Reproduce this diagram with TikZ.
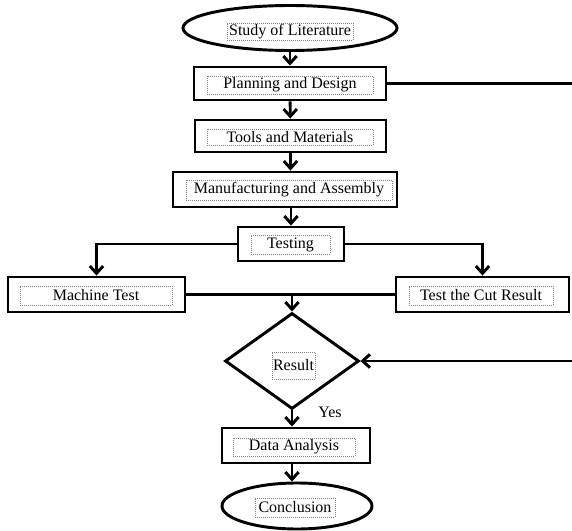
\documentclass[tikz,border=0pt]{standalone}
\usepackage{fontspec}
\setmainfont{Liberation Serif}
\usetikzlibrary{shapes.geometric,arrows.meta}

\tikzset{
  boxshape/.style={draw, line width=2.2pt, rectangle, inner sep=0pt},
  ovalshape/.style={draw, line width=2.2pt, ellipse, inner sep=0pt},
  diamshape/.style={draw, line width=2.2pt, diamond, inner sep=0pt},
  txtframe/.style={draw=gray, densely dotted, line width=0.5pt, inner sep=0pt, font=\fontsize{12}{14}\selectfont},
  link/.style={line width=2.2pt},
  flow/.style={link, -{Straight Barb[length=5.5pt,width=10pt,line width=2.2pt]}}
}

\begin{document}
\begin{tikzpicture}[x=0.75pt,y=0.75pt,yscale=-1,xscale=1]
\useasboundingbox (0,0) rectangle (572,531);

%Shape: Ellipse [id:study]
\node [ovalshape, minimum width=160.5pt, minimum height=33.75pt] (study) at (290,28) {};
% Text Node
\node [txtframe, minimum width=94.5pt, minimum height=12.75pt] (studyt) at (290,31.5) {Study of Literature};

%Shape: Rectangle [id:plan]
\node [boxshape, minimum width=144pt, minimum height=24.75pt] (plan) at (290,83.5) {};
% Text Node
\node [txtframe, minimum width=124.5pt, minimum height=13.5pt] (plant) at (290,85) {Planning and Design};

%Shape: Rectangle [id:tools]
\node [boxshape, minimum width=143.25pt, minimum height=24pt] (tools) at (290.5,136) {};
% Text Node
\node [txtframe, minimum width=124.5pt, minimum height=12pt] (toolst) at (290,137) {Tools and Materials};

%Shape: Rectangle [id:manu]
\node [boxshape, minimum width=168pt, minimum height=26.25pt] (manu) at (285,189.5) {};
% Text Node
\node [txtframe, minimum width=154.5pt, minimum height=15pt] (manut) at (289,190) {Manufacturing and Assembly};

%Shape: Rectangle [id:test]
\node [boxshape, minimum width=79.5pt, minimum height=25.5pt] (test) at (291,244) {};
% Text Node
\node [txtframe, minimum width=59.25pt, minimum height=14.25pt] (testt) at (290.5,244.5) {Testing};

%Shape: Rectangle [id:mach]
\node [boxshape, minimum width=132.75pt, minimum height=26.25pt] (mach) at (96.5,294.5) {};
% Text Node
\node [txtframe, minimum width=114pt, minimum height=14.25pt] (macht) at (96,295.5) {Machine Test};

%Shape: Rectangle [id:cut]
\node [boxshape, minimum width=129.75pt, minimum height=26.25pt] (cut) at (482.5,294.5) {};
% Text Node
\node [txtframe, minimum width=108pt, minimum height=14.25pt] (cutt) at (481,295.5) {Test the Cut Result};

%Shape: Diamond [id:res]
\node [diamshape, minimum width=100.5pt, minimum height=72pt] (res) at (292,361) {};
% Text Node
\node [txtframe, minimum width=32.25pt, minimum height=20.25pt] (rest) at (293.5,365.5) {Result};

%Shape: Rectangle [id:data]
\node [boxshape, minimum width=111pt, minimum height=26.25pt] (data) at (296,445.5) {};
% Text Node
\node [txtframe, minimum width=91.5pt, minimum height=13.5pt] (datat) at (294,447) {Data Analysis};

%Shape: Ellipse [id:concl]
\node [ovalshape, minimum width=112.5pt, minimum height=34.5pt] (concl) at (297,506) {};
% Text Node
\node [txtframe, minimum width=60pt, minimum height=14.25pt] (conclt) at (295,507.5) {Conclusion};

% Text Node
\node [font=\fontsize{12}{14}\selectfont] (yes) at (330,412) {Yes};

%Straight Lines [id:main flow]
\draw [flow] (study) -- (plan);
\draw [flow] (plan) -- (tools);
\draw [flow] (tools.south) -- (tools.south |- manu.north);
\draw [flow] (test.north |- manu.south) -- (test.north);
\draw [flow] (test.west) -| (mach.north);
\draw [flow] (test.east) -| (cut.north);

%Straight Lines [id:join]
\draw [link] (mach.east) -- (cut.west);
\coordinate (joint) at (res.north |- mach.east);
\draw [flow] (joint) -- (res.north);

%Straight Lines [id:feedback]
\coordinate (fb) at (577,83.5);
\draw [link] (plan.east) -- (fb) -- (fb |- res.east);
\draw [flow] (fb |- res.east) -- (res.east);

\draw [flow] (res.south) -- (res.south |- data.north);
\draw [flow] (data.south -| res) -- (res |- concl.north);
\end{tikzpicture}
\end{document}
